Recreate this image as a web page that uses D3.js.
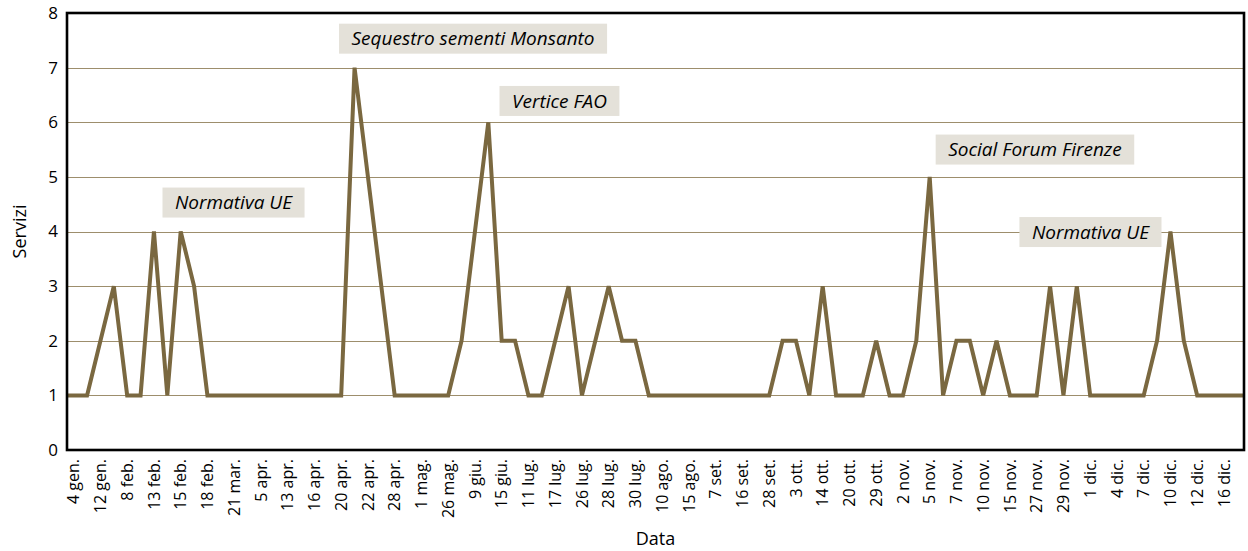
<!doctype html>
<html lang="it">
<head>
    <meta charset="UTF-8">
    <title>Servizi per data</title>
    <style>
        body { margin: 0; background: #fff; }
        text { font-family: "Open Sans", sans-serif; fill: #000; }
        .note text { font-style: italic; }
    </style>
</head>
<body>
    <svg width="1248" height="551"></svg>
    <script src="https://cdn.jsdelivr.net/npm/d3@7"></script>
    <script>
        // etichette dell'asse x: una ogni due date
        const tickLabels = ["4 gen.", "12 gen.", "8 feb.", "13 feb.", "15 feb.", "18 feb.", "21 mar.", "5 apr.",
            "13 apr.", "16 apr.", "20 apr.", "22 apr.", "28 apr.", "1 mag.", "26 mag.", "9 giu.", "15 giu.",
            "11 lug.", "17 lug.", "26 lug.", "28 lug.", "30 lug.", "10 ago.", "15 ago.", "7 set.", "16 set.",
            "28 set.", "3 ott.", "14 ott.", "20 ott.", "29 ott.", "2 nov.", "5 nov.", "7 nov.", "10 nov.",
            "15 nov.", "27 nov.", "29 nov.", "1 dic.", "4 dic.", "7 dic.", "10 dic.", "12 dic.", "16 dic."];

        // numero di servizi per data (88 date)
        const values = [1, 1, 2, 3, 1, 1, 4, 1, 4, 3, 1,
            1, 1, 1, 1, 1, 1, 1, 1, 1, 1,
            7, 5, 3, 1,
            1, 1, 1, 1,
            2, 4, 6, 2, 2, 1, 1, 2, 3, 1, 2, 3, 2, 2, 1,
            1, 1, 1, 1, 1, 1, 1, 1,
            1, 2, 2, 1, 3, 1, 1, 1, 2, 1, 1, 2, 5, 1, 2, 2, 1, 2, 1, 1, 1, 3, 1, 3, 1,
            1, 1, 1, 1, 2, 4, 2, 1, 1, 1, 1];

        const yTicks = [0, 1, 2, 3, 4, 5, 6, 7, 8];

        const notes = ["Sequestro sementi Monsanto", "Vertice FAO", "Normativa UE", "Social Forum Firenze", "Normativa UE"];

        const svg = d3.select("svg"),
            margin = {top: 13, right: 4, bottom: 101, left: 67},
            width = +svg.attr("width") - margin.left - margin.right,
            height = +svg.attr("height") - margin.top - margin.bottom,
            g = svg.append("g").attr("transform", "translate(" + margin.left + "," + margin.top + ")");

        const x = d3.scaleBand()
            .domain(d3.range(values.length))
            .range([0, width]);

        const y = d3.scaleLinear()
            .domain([0, 8])
            .range([height, 0]);

        const xc = i => x.step() * i + x.bandwidth() / 2;

        // griglia
        g.append("g")
            .selectAll("line")
            .data(yTicks.slice(1, -1))
            .enter().append("line")
            .attr("x1", 0)
            .attr("x2", width)
            .attr("y1", d => Math.round(y(d)) + 0.5)
            .attr("y2", d => Math.round(y(d)) + 0.5)
            .attr("stroke", "#9d8e6c")
            .attr("stroke-width", 1.2);

        // asse y
        g.append("g")
            .call(d3.axisLeft(y).tickValues(yTicks).tickSize(0).tickPadding(9))
            .call(a => a.select(".domain").remove())
            .selectAll("text")
            .style("font-size", "17px");

        // asse x
        g.append("g")
            .attr("transform", "translate(0," + height + ")")
            .call(d3.axisBottom(x)
                .tickValues(d3.range(0, values.length, 2))
                .tickFormat(i => tickLabels[i / 2])
                .tickSize(0))
            .call(a => a.select(".domain").remove())
            .selectAll("text")
            .attr("transform", "rotate(-90)")
            .attr("text-anchor", "end")
            .attr("x", -9)
            .attr("y", 0)
            .attr("dy", "0.35em")
            .style("font-size", "16px");

        // linea: parte dal bordo sinistro e arriva al bordo destro
        const pts = [[x.range()[0], values[0]]]
            .concat(values.map((v, i) => [xc(i), v]))
            .concat([[x.range()[1], values[values.length - 1]]]);

        g.append("path")
            .datum(pts)
            .attr("fill", "none")
            .attr("stroke", "#7a6840")
            .attr("stroke-width", 4)
            .attr("stroke-linejoin", "miter")
            .attr("d", d3.line().x(d => d[0]).y(d => y(d[1])));

        // cornice
        g.append("rect")
            .attr("width", width)
            .attr("height", height)
            .attr("fill", "none")
            .attr("stroke", "#000")
            .attr("stroke-width", 2.6);

        // note
        const noteAt = [[29.86, 7.53], [36.32, 6.39], [11.95, 4.53], [71.87, 5.50], [76.02, 3.99]];
        notes.forEach((t, k) => {
            const n = g.append("g").attr("class", "note")
                .attr("transform", "translate(" + xc(noteAt[k][0]) + "," + y(noteAt[k][1]) + ")");
            const rect = n.append("rect").attr("fill", "#e4e1d9");
            const txt = n.append("text")
                .attr("text-anchor", "middle")
                .attr("dy", "0.35em")
                .style("font-size", "19px")
                .text(t);
            const w = txt.node().getComputedTextLength() + 25;
            rect.attr("x", -w / 2).attr("y", -15).attr("width", w).attr("height", 30);
        });

        // titoli degli assi
        svg.append("text")
            .attr("transform", "translate(26," + (margin.top + height / 2) + ") rotate(-90)")
            .attr("text-anchor", "middle")
            .style("font-size", "18px")
            .text("Servizi");

        svg.append("text")
            .attr("x", margin.left + width / 2)
            .attr("y", 545)
            .attr("text-anchor", "middle")
            .style("font-size", "18px")
            .text("Data");
    </script>
</body>
</html>
